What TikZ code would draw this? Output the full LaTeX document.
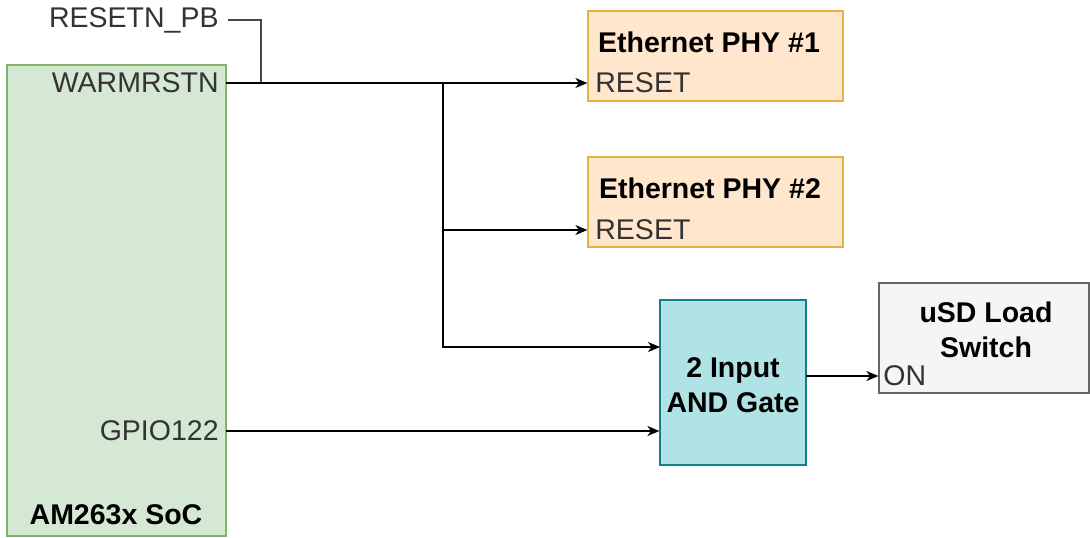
\documentclass[tikz,border=0pt]{standalone}
\usepackage{fontspec}
\setmainfont{Liberation Sans}
\usetikzlibrary{arrows.meta}
\definecolor{socfill}{HTML}{D5E8D4}
\definecolor{socline}{HTML}{82B366}
\definecolor{phyfill}{HTML}{FFE6CC}
\definecolor{phyline}{HTML}{E3B341}
\definecolor{gatefill}{HTML}{B0E3E6}
\definecolor{gateline}{HTML}{0E8088}
\definecolor{swfill}{HTML}{F5F5F5}
\definecolor{swline}{HTML}{666666}
\definecolor{pintext}{HTML}{333333}
\begin{document}
\begin{tikzpicture}[>={Stealth[length=6pt,width=5pt,inset=1.8pt]},x=0.5pt,y=-0.5pt,
    font=\fontsize{14.25}{17.5}\selectfont,
    box/.style={draw,line width=0.6pt,inner sep=0pt},
    pin/.style={text=pintext,inner sep=0pt},
    title/.style={font=\fontsize{14.25}{17.5}\selectfont\bfseries,align=center,inner sep=0pt},
    wire/.style={line width=0.85pt}]
    \useasboundingbox (0,0) rectangle (1090,537);
    % blocks
    \node[box,fill=socfill,draw=socline,minimum width=109.5pt,minimum height=235.5pt] (soc) at (116.5,300.5) {};
    \node[box,fill=phyfill,draw=phyline,minimum width=127.5pt,minimum height=45pt] (phya) at (715.5,56) {};
    \node[box,fill=phyfill,draw=phyline,minimum width=127.5pt,minimum height=45pt] (phyb) at (715.5,202) {};
    \node[box,fill=gatefill,draw=gateline,minimum width=73pt,minimum height=82.5pt] (gate) at (733,382.5) {};
    \node[box,fill=swfill,draw=swline,minimum width=105pt,minimum height=55pt] (sw) at (984,338) {};
    % texts
    \node[title] (soct) at (116,515) {AM263x SoC};
    \node[title] (phyat) at (709,42) {Ethernet PHY \#1};
    \node[title] (phybt) at (710,188) {Ethernet PHY \#2};
    \node[title] (gatet) at (733,385) {2 Input\\AND Gate};
    \node[title] (swt) at (986,330) {uSD Load\\Switch};
    \node[pin,anchor=east] (pb) at (219,20) {RESETN\_PB};
    \node[pin,anchor=east] (warm) at (219,83) {WARMRSTN};
    \node[pin,anchor=east] (gpio) at (219,431) {GPIO122};
    \node[pin,anchor=west] (rsta) at (595,83) {RESET};
    \node[pin,anchor=west] (rstb) at (595,230) {RESET};
    \node[pin,anchor=west] (on) at (883,376) {ON};
    % wires
    \coordinate (warmo) at (226,83);
    \coordinate (pbo) at (228,20);
    \coordinate (pbj) at (261,83);
    \coordinate (br) at (443,83);
    \coordinate (ina) at (660,347);
    \coordinate (gpioo) at (226,431);
    \coordinate (outq) at (806,376);
    \draw[wire,swline!70!black] (pbo) -| (pbj);
    \draw[wire,->] (warmo) -- (warmo -| phya.west);
    \draw[wire,->] (br) |- (rstb.west -| phyb.west);
    \draw[wire,->] (br) |- (ina);
    \draw[wire,->] (gpioo) -- (gpioo -| gate.west);
    \draw[wire,->] (outq) -- (outq -| sw.west);
\end{tikzpicture}
\end{document}
